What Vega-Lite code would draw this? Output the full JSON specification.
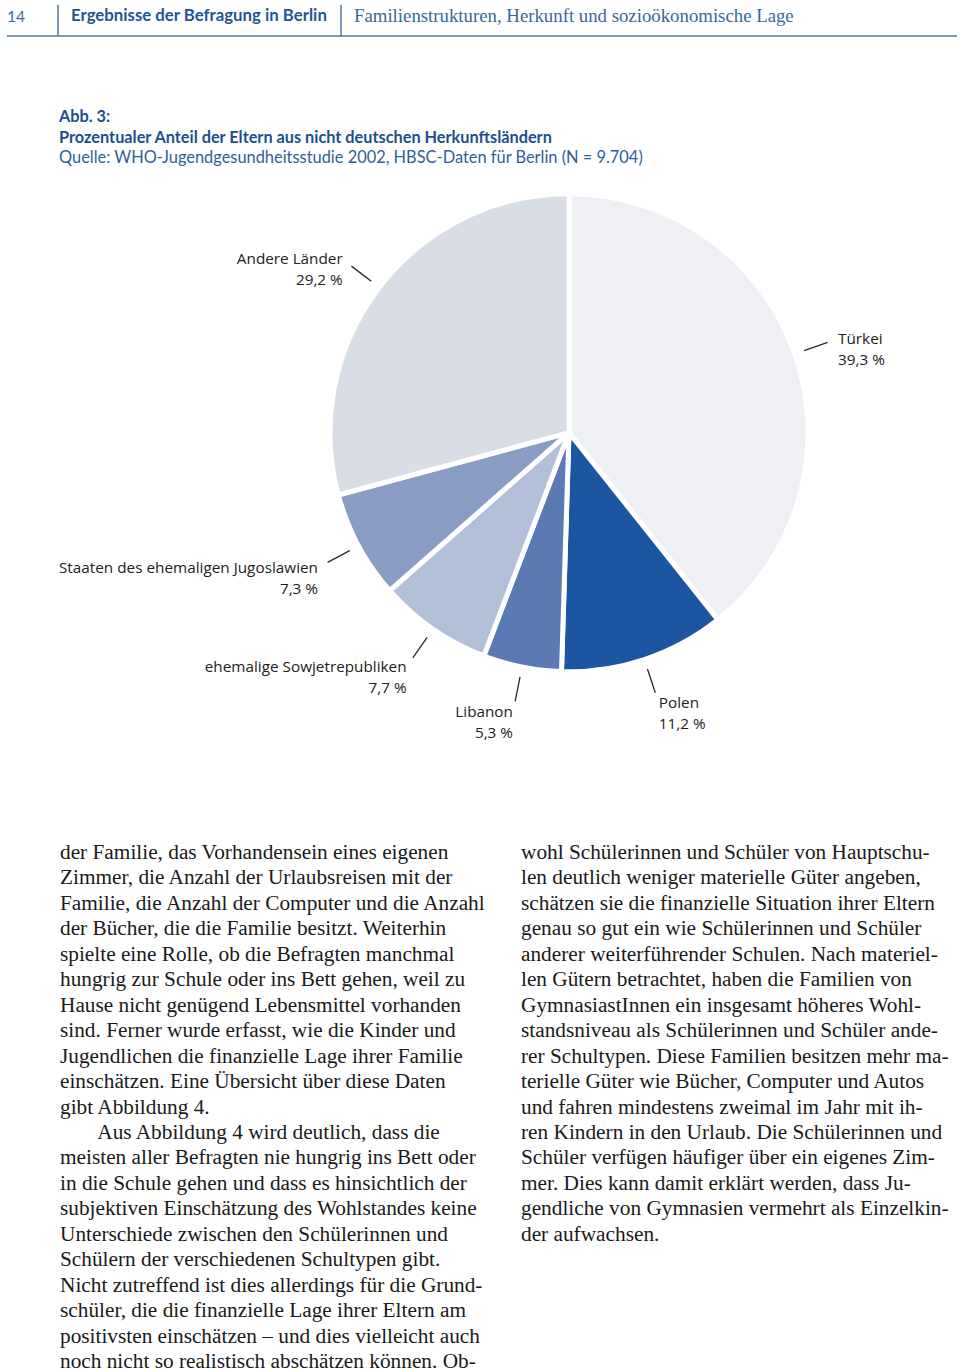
{
  "$schema": "https://vega.github.io/schema/vega-lite/v6.json",
  "width": 960,
  "height": 1372,
  "autosize": {"type": "fit", "contains": "padding"},
  "padding": 0,
  "background": "white",
  "config": {"view": {"stroke": null}},
  "datasets": {
    "herkunft": [
      {"land": "Türkei", "anteil": 39.3, "rang": 1, "wert": "39,3 %"},
      {"land": "Polen", "anteil": 11.2, "rang": 2, "wert": "11,2 %"},
      {"land": "Libanon", "anteil": 5.3, "rang": 3, "wert": "5,3 %"},
      {"land": "ehemalige Sowjetrepubliken", "anteil": 7.7, "rang": 4, "wert": "7,7 %"},
      {"land": "Staaten des ehemaligen Jugoslawien", "anteil": 7.3, "rang": 5, "wert": "7,3 %"},
      {"land": "Andere Länder", "anteil": 29.2, "rang": 6, "wert": "29,2 %"}
    ],
    "textzeilen": [
      {"spalte": 1, "zeile": 1, "text": "der Familie, das Vorhandensein eines eigenen"},
      {"spalte": 1, "zeile": 2, "text": "Zimmer, die Anzahl der Urlaubsreisen mit der"},
      {"spalte": 1, "zeile": 3, "text": "Familie, die Anzahl der Computer und die Anzahl"},
      {"spalte": 1, "zeile": 4, "text": "der Bücher, die die Familie besitzt. Weiterhin"},
      {"spalte": 1, "zeile": 5, "text": "spielte eine Rolle, ob die Befragten manchmal"},
      {"spalte": 1, "zeile": 6, "text": "hungrig zur Schule oder ins Bett gehen, weil zu"},
      {"spalte": 1, "zeile": 7, "text": "Hause nicht genügend Lebensmittel vorhanden"},
      {"spalte": 1, "zeile": 8, "text": "sind. Ferner wurde erfasst, wie die Kinder und"},
      {"spalte": 1, "zeile": 9, "text": "Jugendlichen die finanzielle Lage ihrer Familie"},
      {"spalte": 1, "zeile": 10, "text": "einschätzen. Eine Übersicht über diese Daten"},
      {"spalte": 1, "zeile": 11, "text": "gibt Abbildung 4."},
      {"spalte": 1, "zeile": 12, "text": "\u200b\u00a0\u00a0\u00a0\u00a0\u00a0\u00a0\u00a0Aus Abbildung 4 wird deutlich, dass die"},
      {"spalte": 1, "zeile": 13, "text": "meisten aller Befragten nie hungrig ins Bett oder"},
      {"spalte": 1, "zeile": 14, "text": "in die Schule gehen und dass es hinsichtlich der"},
      {"spalte": 1, "zeile": 15, "text": "subjektiven Einschätzung des Wohlstandes keine"},
      {"spalte": 1, "zeile": 16, "text": "Unterschiede zwischen den Schülerinnen und"},
      {"spalte": 1, "zeile": 17, "text": "Schülern der verschiedenen Schultypen gibt."},
      {"spalte": 1, "zeile": 18, "text": "Nicht zutreffend ist dies allerdings für die Grund-"},
      {"spalte": 1, "zeile": 19, "text": "schüler, die die finanzielle Lage ihrer Eltern am"},
      {"spalte": 1, "zeile": 20, "text": "positivsten einschätzen – und dies vielleicht auch"},
      {"spalte": 1, "zeile": 21, "text": "noch nicht so realistisch abschätzen können. Ob-"},
      {"spalte": 2, "zeile": 1, "text": "wohl Schülerinnen und Schüler von Hauptschu-"},
      {"spalte": 2, "zeile": 2, "text": "len deutlich weniger materielle Güter angeben,"},
      {"spalte": 2, "zeile": 3, "text": "schätzen sie die finanzielle Situation ihrer Eltern"},
      {"spalte": 2, "zeile": 4, "text": "genau so gut ein wie Schülerinnen und Schüler"},
      {"spalte": 2, "zeile": 5, "text": "anderer weiterführender Schulen. Nach materiel-"},
      {"spalte": 2, "zeile": 6, "text": "len Gütern betrachtet, haben die Familien von"},
      {"spalte": 2, "zeile": 7, "text": "GymnasiastInnen ein insgesamt höheres Wohl-"},
      {"spalte": 2, "zeile": 8, "text": "standsniveau als Schülerinnen und Schüler ande-"},
      {"spalte": 2, "zeile": 9, "text": "rer Schultypen. Diese Familien besitzen mehr ma-"},
      {"spalte": 2, "zeile": 10, "text": "terielle Güter wie Bücher, Computer und Autos"},
      {"spalte": 2, "zeile": 11, "text": "und fahren mindestens zweimal im Jahr mit ih-"},
      {"spalte": 2, "zeile": 12, "text": "ren Kindern in den Urlaub. Die Schülerinnen und"},
      {"spalte": 2, "zeile": 13, "text": "Schüler verfügen häufiger über ein eigenes Zim-"},
      {"spalte": 2, "zeile": 14, "text": "mer. Dies kann damit erklärt werden, dass Ju-"},
      {"spalte": 2, "zeile": 15, "text": "gendliche von Gymnasien vermehrt als Einzelkin-"},
      {"spalte": 2, "zeile": 16, "text": "der aufwachsen."}
    ]
  },
  "resolve": {"scale": {"x": "independent", "y": "independent"}},
  "layer": [
    {
      "data": {"values": [{"text": "14"}]},
      "mark": {"type": "text", "align": "left", "baseline": "middle", "font": "Lato", "fontSize": 15.5, "color": "#3a6a9c"},
      "encoding": {
        "text": {"field": "text"},
        "x": {"datum": 7, "type": "quantitative", "scale": {"domain": [0, 960]}, "axis": null},
        "y": {"datum": 17, "type": "quantitative", "scale": {"domain": [0, 1372], "reverse": true}, "axis": null}
      }
    },
    {
      "data": {"values": [{"text": "Ergebnisse der Befragung in Berlin"}]},
      "mark": {"type": "text", "align": "left", "baseline": "middle", "font": "Lato", "fontWeight": "bold", "fontSize": 16.8, "color": "#1f5598"},
      "encoding": {
        "text": {"field": "text"},
        "x": {"datum": 71, "type": "quantitative", "scale": {"domain": [0, 960]}, "axis": null},
        "y": {"datum": 16, "type": "quantitative", "scale": {"domain": [0, 1372], "reverse": true}, "axis": null}
      }
    },
    {
      "data": {"values": [{"text": "Familienstrukturen, Herkunft und sozioökonomische Lage"}]},
      "mark": {"type": "text", "align": "left", "baseline": "middle", "font": "Liberation Serif", "fontSize": 18.8, "color": "#3a6896"},
      "encoding": {
        "text": {"field": "text"},
        "x": {"datum": 354, "type": "quantitative", "scale": {"domain": [0, 960]}, "axis": null},
        "y": {"datum": 16, "type": "quantitative", "scale": {"domain": [0, 1372], "reverse": true}, "axis": null}
      }
    },
    {
      "data": {"values": [{}]},
      "mark": {"type": "rule", "color": "#4f77a0", "strokeWidth": 1.5},
      "encoding": {
        "x": {"datum": 7, "type": "quantitative", "scale": {"domain": [0, 960]}, "axis": null},
        "x2": {"datum": 957},
        "y": {"datum": 36, "type": "quantitative", "scale": {"domain": [0, 1372], "reverse": true}, "axis": null}
      }
    },
    {
      "data": {"values": [{}]},
      "mark": {"type": "rule", "color": "#4f77a0", "strokeWidth": 1.5},
      "encoding": {
        "x": {"datum": 58, "type": "quantitative", "scale": {"domain": [0, 960]}, "axis": null},
        "y": {"datum": 5, "type": "quantitative", "scale": {"domain": [0, 1372], "reverse": true}, "axis": null},
        "y2": {"datum": 36}
      }
    },
    {
      "data": {"values": [{}]},
      "mark": {"type": "rule", "color": "#4f77a0", "strokeWidth": 1.5},
      "encoding": {
        "x": {"datum": 341, "type": "quantitative", "scale": {"domain": [0, 960]}, "axis": null},
        "y": {"datum": 5, "type": "quantitative", "scale": {"domain": [0, 1372], "reverse": true}, "axis": null},
        "y2": {"datum": 36}
      }
    },
    {
      "data": {"values": [{"text": "Abb. 3:"}]},
      "mark": {"type": "text", "align": "left", "baseline": "middle", "font": "Lato", "fontWeight": "bold", "fontSize": 16.3, "color": "#1b4f8e"},
      "encoding": {
        "text": {"field": "text"},
        "x": {"datum": 59, "type": "quantitative", "scale": {"domain": [0, 960]}, "axis": null},
        "y": {"datum": 117, "type": "quantitative", "scale": {"domain": [0, 1372], "reverse": true}, "axis": null}
      }
    },
    {
      "data": {"values": [{"text": "Prozentualer Anteil der Eltern aus nicht deutschen Herkunftsländern"}]},
      "mark": {"type": "text", "align": "left", "baseline": "middle", "font": "Lato", "fontWeight": "bold", "fontSize": 16.3, "color": "#1b4f8e"},
      "encoding": {
        "text": {"field": "text"},
        "x": {"datum": 59, "type": "quantitative", "scale": {"domain": [0, 960]}, "axis": null},
        "y": {"datum": 138, "type": "quantitative", "scale": {"domain": [0, 1372], "reverse": true}, "axis": null}
      }
    },
    {
      "data": {"values": [{"text": "Quelle: WHO-Jugendgesundheitsstudie 2002, HBSC-Daten für Berlin (N = 9.704)"}]},
      "mark": {"type": "text", "align": "left", "baseline": "middle", "font": "Lato", "fontSize": 16.4, "color": "#2f5f95"},
      "encoding": {
        "text": {"field": "text"},
        "x": {"datum": 59, "type": "quantitative", "scale": {"domain": [0, 960]}, "axis": null},
        "y": {"datum": 158, "type": "quantitative", "scale": {"domain": [0, 1372], "reverse": true}, "axis": null}
      }
    },
    {
      "data": {"name": "herkunft"},
      "mark": {"type": "arc", "outerRadius": 239, "stroke": "white", "strokeWidth": 5},
      "encoding": {
        "theta": {"field": "anteil", "type": "quantitative", "stack": true},
        "order": {"field": "rang", "type": "quantitative"},
        "color": {
          "field": "land", "type": "nominal", "legend": null,
          "scale": {
            "domain": ["Türkei", "Polen", "Libanon", "ehemalige Sowjetrepubliken", "Staaten des ehemaligen Jugoslawien", "Andere Länder"],
            "range": ["#eef0f4", "#1c55a0", "#5b79b2", "#b1bfd8", "#889cc4", "#d8dde6"]
          }
        },
        "x": {"datum": 569, "type": "quantitative", "scale": {"domain": [0, 960]}, "axis": null},
        "y": {"datum": 433, "type": "quantitative", "scale": {"domain": [0, 1372], "reverse": true}, "axis": null}
      }
    },
    {
      "data": {"name": "herkunft"},
      "mark": {"type": "arc", "innerRadius": 249, "outerRadius": 274, "padAngle": 3, "filled": false, "stroke": "#2a2a2a", "strokeWidth": 1.3},
      "encoding": {
        "theta": {"field": "anteil", "type": "quantitative", "stack": true},
        "order": {"field": "rang", "type": "quantitative"},
        "x": {"datum": 569, "type": "quantitative", "scale": {"domain": [0, 960]}, "axis": null},
        "y": {"datum": 433, "type": "quantitative", "scale": {"domain": [0, 1372], "reverse": true}, "axis": null}
      }
    },
    {
      "data": {"name": "herkunft"},
      "mark": {"type": "text", "radius": 285, "align": "left", "baseline": "middle", "font": "Open Sans", "fontSize": 15.3, "color": "#222222"},
      "encoding": {
        "theta": {"field": "anteil", "type": "quantitative", "stack": true},
        "order": {"field": "rang", "type": "quantitative"},
        "text": {"field": "land"},
        "opacity": {"condition": {"test": "indexof(['Türkei','Polen'], datum.land) >= 0", "value": 1}, "value": 0},
        "x": {"datum": 569, "type": "quantitative", "scale": {"domain": [0, 960]}, "axis": null},
        "y": {"datum": 433, "type": "quantitative", "scale": {"domain": [0, 1372], "reverse": true}, "axis": null}
      }
    },
    {
      "data": {"name": "herkunft"},
      "mark": {"type": "text", "radius": 285, "dy": 21, "align": "left", "baseline": "middle", "font": "Open Sans", "fontSize": 15.3, "color": "#222222"},
      "encoding": {
        "theta": {"field": "anteil", "type": "quantitative", "stack": true},
        "order": {"field": "rang", "type": "quantitative"},
        "text": {"field": "wert"},
        "opacity": {"condition": {"test": "indexof(['Türkei','Polen'], datum.land) >= 0", "value": 1}, "value": 0},
        "x": {"datum": 569, "type": "quantitative", "scale": {"domain": [0, 960]}, "axis": null},
        "y": {"datum": 433, "type": "quantitative", "scale": {"domain": [0, 1372], "reverse": true}, "axis": null}
      }
    },
    {
      "data": {"name": "herkunft"},
      "mark": {"type": "text", "radius": 285, "align": "right", "baseline": "middle", "font": "Open Sans", "fontSize": 15.3, "color": "#222222"},
      "encoding": {
        "theta": {"field": "anteil", "type": "quantitative", "stack": true},
        "order": {"field": "rang", "type": "quantitative"},
        "text": {"field": "land"},
        "opacity": {"condition": {"test": "indexof(['Türkei','Polen'], datum.land) < 0", "value": 1}, "value": 0},
        "x": {"datum": 569, "type": "quantitative", "scale": {"domain": [0, 960]}, "axis": null},
        "y": {"datum": 433, "type": "quantitative", "scale": {"domain": [0, 1372], "reverse": true}, "axis": null}
      }
    },
    {
      "data": {"name": "herkunft"},
      "mark": {"type": "text", "radius": 285, "dy": 21, "align": "right", "baseline": "middle", "font": "Open Sans", "fontSize": 15.3, "color": "#222222"},
      "encoding": {
        "theta": {"field": "anteil", "type": "quantitative", "stack": true},
        "order": {"field": "rang", "type": "quantitative"},
        "text": {"field": "wert"},
        "opacity": {"condition": {"test": "indexof(['Türkei','Polen'], datum.land) < 0", "value": 1}, "value": 0},
        "x": {"datum": 569, "type": "quantitative", "scale": {"domain": [0, 960]}, "axis": null},
        "y": {"datum": 433, "type": "quantitative", "scale": {"domain": [0, 1372], "reverse": true}, "axis": null}
      }
    },
    {
      "data": {"name": "textzeilen"},
      "mark": {"type": "text", "align": "left", "baseline": "middle", "font": "Liberation Serif", "fontSize": 21.3, "color": "#1a1a1a"},
      "encoding": {
        "text": {"field": "text"},
        "x": {"field": "spalte", "type": "quantitative", "scale": {"domain": [1, 2], "range": [60, 521]}, "axis": null},
        "y": {"field": "zeile", "type": "quantitative", "scale": {"domain": [1, 21], "range": [853, 1362]}, "axis": null}
      }
    }
  ]
}
